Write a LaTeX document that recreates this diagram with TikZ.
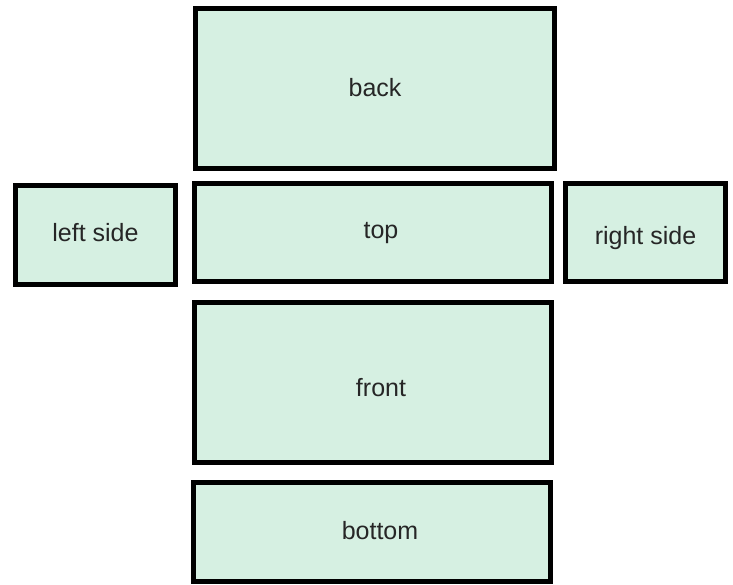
\documentclass[tikz,border=0pt]{standalone}
\usepackage{fontspec}
\setmainfont{Liberation Sans}
\definecolor{facefill}{RGB}{214,240,226}

\begin{document}
\begin{tikzpicture}[
  x=1pt,y=-1pt,
  face/.style={rectangle,draw=black,line width=5pt,fill=facefill,inner sep=0pt,
    font=\fontsize{25}{30}\selectfont,text=black!85,text depth=0pt},
  wide/.style={minimum width=357pt},
  narrow/.style={minimum width=160pt},
  offcentre/.style={execute at begin node=\hspace*{16pt}}
]
  \useasboundingbox (0,0) rectangle (733,584);
  \draw (375,88.5) node[face,wide,minimum width=359pt,minimum height=160pt,text height=16.4pt] (back) {back}
        (95.5,235) node[face,narrow,minimum height=99pt,text height=13.4pt] (left) {left side}
        (373,232.5) node[face,wide,offcentre,minimum height=98pt,text height=11.6pt] (top) {top}
        (645.5,232.5) node[face,narrow,minimum height=98pt,text height=23.6pt] (right) {right side}
        (373,382.5) node[face,wide,offcentre,minimum height=160pt,text height=27pt] (front) {front}
        (372,531.75) node[face,wide,offcentre,minimum height=98.5pt,text height=15.1pt] (bottom) {bottom};
\end{tikzpicture}
\end{document}
